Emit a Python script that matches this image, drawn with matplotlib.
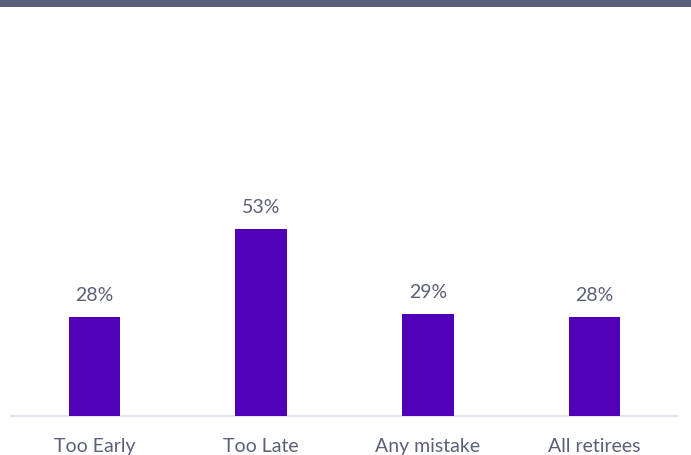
import matplotlib
matplotlib.use("Agg")
import matplotlib.pyplot as plt

categories = ["Too Early", "Too Late", "Any mistake", "All retirees"]
values = [28, 53, 29, 28]
value_labels = ["28%", "53%", "29%", "28%"]

plt.rcParams['font.family'] = ['Lato', 'DejaVu Sans']

W, H = 691, 456
fig = plt.figure(figsize=(W / 100, H / 100), dpi=100)
fig.patch.set_facecolor("white")

# top band
band = fig.add_axes([0, 1 - 8 / H, 1, 8 / H])
band.set_facecolor("#5b6079")
band.set_xticks([]); band.set_yticks([])
for s in band.spines.values():
    s.set_visible(False)

px_per_unit = 187 / 53
ax_top_px = 40
ax_bottom_px = 417
ax = fig.add_axes([11 / W, (H - ax_bottom_px) / H, 667 / W, (ax_bottom_px - ax_top_px) / H])
ax.bar(range(len(categories)), values, width=0.31, color="#5000b6", zorder=3)
ax.set_xlim(-0.5, len(categories) - 0.5)
ax.set_ylim(0, (ax_bottom_px - ax_top_px) / px_per_unit)

for i, (v, lab) in enumerate(zip(values, value_labels)):
    ax.annotate(lab, (i, v), xytext=(0, 14), textcoords="offset pixels",
                ha="center", va="bottom", fontsize=14, color="#5b6079")

ax.set_xticks(range(len(categories)))
ax.set_xticklabels(categories, fontsize=14, color="#5b6079")
ax.tick_params(axis="x", length=0, pad=15)
ax.set_yticks([])
for k in ["top", "right", "left"]:
    ax.spines[k].set_visible(False)
ax.spines["bottom"].set_color("#e2e2ea")
ax.spines["bottom"].set_linewidth(1.5)
ax.set_facecolor("none")

fig.savefig("out.png", dpi=100, facecolor="white")
